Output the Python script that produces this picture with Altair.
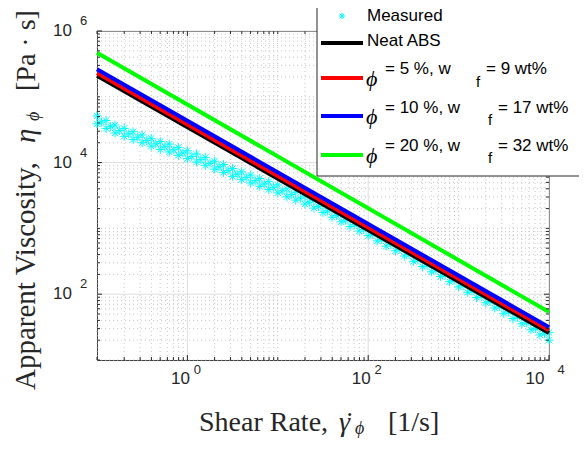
import altair as alt
import pandas as pd

# ---------------- data ----------------
shear_model = [0.1, 10000]
eta_neat = [209000, 25.7]
eta_5 = [229000, 28.2]
eta_10 = [263000, 31.6]
eta_20 = [468000, 53.7]

meas_shear = [0.1, 0.126, 0.158, 0.2, 0.251, 0.316, 0.398, 0.501, 0.631, 0.794,
              1.0, 1.26, 1.58, 2.0, 2.51, 3.16, 3.98, 5.01, 6.31, 7.94,
              10, 12.6, 15.8, 20, 25.1, 31.6, 39.8, 50.1, 63.1, 79.4,
              100, 126, 158, 200, 251, 316, 398, 501, 631, 794,
              1000, 1260, 1580, 2000, 2510, 3160, 3980, 5010, 6310, 7940, 10000]
meas_eta_upper = [51300, 43700, 37200, 33100, 29500, 26300, 23400, 20900, 19100, 17000,
                  15100, 13500, 12000, 10500, 9330, 8130, 7240, 6460, 5750, 5130,
                  4570, 3980, 3550, 3090, 2690, 2290, 1950, 1660, 1410, 1200,
                  1020, 851, 708, 603, 501, 417, 347, 288, 245, 204,
                  170, 141, 117, 97.7, 81.3, 67.6, 56.2, 46.8, 38.0, 31.6, 26.3]
meas_eta_lower = [38900, 33100, 28200, 25100, 22400, 20000, 17800, 15800, 14500, 12900,
                  11500, 10200, 9120, 7940, 7080, 6170, 5500, 4900, 4370, 3890,
                  3470, 3020, 2690, 2340, 2040, 1740, 1480, 1260, 1070, 912,
                  776, 646, 537, 457, 380, 316, 263, 219, 186, 155,
                  129, 107, 89.1, 74.1, 61.7, 51.3, 42.7, 35.5, 28.8, 24.0, 20.0]
meas_shear_mid = [0.112, 0.141, 0.178, 0.224, 0.282, 0.355, 0.447, 0.562, 0.708, 0.891,
                  1.12, 1.41, 1.78, 2.24, 2.82, 3.55, 4.47, 5.62, 7.08, 8.91,
                  11.2, 14.1, 17.8, 22.4, 28.2, 35.5, 44.7, 56.2, 70.8, 89.1,
                  112, 141, 178, 224, 282, 355, 447, 562, 708, 891,
                  1120, 1410, 1780, 2240, 2820, 3550, 4470, 5620, 7080, 8910]
meas_eta_mid = [41200, 35100, 30600, 27200, 24300, 21600, 19300, 17400, 15700, 14000,
                12400, 11100, 9770, 8610, 7590, 6680, 5960, 5310, 4730, 4220,
                3720, 3270, 2880, 2510, 2160, 1840, 1570, 1330, 1140, 966,
                813, 676, 569, 479, 398, 331, 275, 232, 195, 162,
                135, 112, 93.3, 77.6, 64.6, 53.7, 44.7, 36.7, 30.2, 25.1]

x_major = [1, 100, 10000]
x_major_exp = ["0", "2", "4"]
y_major = [100, 10000, 1000000]
y_major_exp = ["2", "4", "6"]

W, H = 452, 329
AX = "#262626"
SANS = "Liberation Sans"
SERIF = "Liberation Serif"

xs = alt.Scale(type="log", domain=[0.1, 10000], nice=False)
ys = alt.Scale(type="log", domain=[10, 1000000], nice=False)

# tick / grid positions (decoration)
x_all = [m * 10.0 ** k for k in range(-1, 4) for m in range(1, 10)] + [10000.0]
y_all = [m * 10.0 ** k for k in range(1, 6) for m in range(1, 10)] + [1000000.0]
x_minor = [v for v in x_all if not any(abs(v - M) / M < 1e-6 for M in x_major)]
y_minor = [v for v in y_all if not any(abs(v - M) / M < 1e-6 for M in y_major)]

xmin_df = pd.DataFrame({"v": x_minor})
ymin_df = pd.DataFrame({"v": y_minor})
xmaj_df = pd.DataFrame({"v": x_major, "e": x_major_exp})
ymaj_df = pd.DataFrame({"v": y_major, "e": y_major_exp})


def X(f):
    return alt.X(f, scale=xs, axis=None)


def Y(f):
    return alt.Y(f, scale=ys, axis=None)


layers = []
# grid
layers.append(alt.Chart(xmin_df).mark_rule(color="#c8c8c8", strokeDash=[1, 3], strokeWidth=1)
              .encode(x=X("v:Q"), y=alt.value(0), y2=alt.value(H)))
layers.append(alt.Chart(ymin_df).mark_rule(color="#c8c8c8", strokeDash=[1, 3], strokeWidth=1)
              .encode(y=Y("v:Q"), x=alt.value(0), x2=alt.value(W)))
layers.append(alt.Chart(xmaj_df).mark_rule(color="#dedede", strokeWidth=1)
              .encode(x=X("v:Q"), y=alt.value(0), y2=alt.value(H)))
layers.append(alt.Chart(ymaj_df).mark_rule(color="#dedede", strokeWidth=1)
              .encode(y=Y("v:Q"), x=alt.value(0), x2=alt.value(W)))

# measured data
meas = pd.DataFrame({
    "shear": meas_shear + meas_shear + meas_shear_mid,
    "eta": meas_eta_upper + meas_eta_lower + meas_eta_mid,
})
AST = "M-1,0L1,0M0,-1L0,1M-0.7,-0.7L0.7,0.7M-0.7,0.7L0.7,-0.7"
layers.append(alt.Chart(meas).mark_point(shape=AST, filled=False, color="#00ffff",
                                         strokeWidth=1, size=80, opacity=1)
              .encode(x=X("shear:Q"), y=Y("eta:Q")))

# model lines
series = [("Neat ABS", eta_neat, "#000000"), ("5", eta_5, "#ff0000"),
          ("10", eta_10, "#0000ff"), ("20", eta_20, "#00ff00")]
for name, vals, col in series:
    d = pd.DataFrame({"shear": shear_model, "eta": vals})
    layers.append(alt.Chart(d).mark_line(color=col, strokeWidth=4)
                  .encode(x=X("shear:Q"), y=Y("eta:Q")))


# ticks (inside, all four sides)
def ticks(df, n, axis):
    out = []
    if axis == "x":
        out.append(alt.Chart(df).mark_rule(color=AX).encode(x=X("v:Q"), y=alt.value(H), y2=alt.value(H - n)))
        out.append(alt.Chart(df).mark_rule(color=AX).encode(x=X("v:Q"), y=alt.value(0), y2=alt.value(n)))
    else:
        out.append(alt.Chart(df).mark_rule(color=AX).encode(y=Y("v:Q"), x=alt.value(0), x2=alt.value(n)))
        out.append(alt.Chart(df).mark_rule(color=AX).encode(y=Y("v:Q"), x=alt.value(W), x2=alt.value(W - n)))
    return out


layers += ticks(xmin_df, 3, "x") + ticks(ymin_df, 3, "y")
layers += ticks(xmaj_df, 5, "x") + ticks(ymaj_df, 5, "y")

# tick labels
xl_a = xmaj_df[xmaj_df.v < 5000]
xl_b = xmaj_df[xmaj_df.v > 5000]
for dfp, d10, de in [(xl_a, -7, 10), (xl_b, -14, 12)]:
    layers.append(alt.Chart(dfp).mark_text(text="10", font=SANS, fontSize=17, color=AX,
                                           align="center", baseline="middle", dx=d10)
                  .encode(x=X("v:Q"), y=alt.value(H + 19)))
    layers.append(alt.Chart(dfp).mark_text(font=SANS, fontSize=13, color=AX,
                                           align="center", baseline="middle", dx=de)
                  .encode(x=X("v:Q"), y=alt.value(H + 10), text="e:N"))
layers.append(alt.Chart(ymaj_df).mark_text(text="10", font=SANS, fontSize=17, color=AX,
                                           align="right", baseline="middle")
              .encode(y=Y("v:Q"), x=alt.value(-25)))
layers.append(alt.Chart(ymaj_df).mark_text(font=SANS, fontSize=13, color=AX,
                                           align="left", baseline="middle", dy=-10)
              .encode(y=Y("v:Q"), x=alt.value(-17), text="e:N"))


def text_layer(rows, font, style="normal", angle=0, baseline="alphabetic", color=AX):
    df = pd.DataFrame(rows)
    return (alt.Chart(df).mark_text(font=font, fontStyle=style, angle=angle, color=color,
                                    align="left", baseline=baseline)
            .encode(x=alt.X("px:Q", scale=None), y=alt.Y("py:Q", scale=None), text="t:N",
                    size=alt.Size("s:Q", scale=None, legend=None)))


# axis titles (pieces)
layers.append(text_layer([
    {"t": "Shear Rate,", "px": 102, "py": 400, "s": 28},
    {"t": "[1/s]", "px": 291, "py": 400, "s": 28},
    {"t": "˙", "px": 248, "py": 400, "s": 28},
], SERIF))
layers.append(text_layer([
    {"t": "γ", "px": 242, "py": 400, "s": 28},
    {"t": "ϕ", "px": 258, "py": 403, "s": 18},
], SERIF, style="italic"))
layers.append(text_layer([
    {"t": "Apparent Viscosity,", "px": -62, "py": 359, "s": 29},
    {"t": "[Pa · s]", "px": -62, "py": 60, "s": 28},
], SERIF, angle=270))
layers.append(text_layer([
    {"t": "η", "px": -62, "py": 112, "s": 29},
    {"t": "ϕ", "px": -58, "py": 90, "s": 18},
], SERIF, style="italic", angle=270))

# legend (manual, placed like the original)
layers.append(alt.Chart(alt.Data(values=[{}])).mark_rect(fill="white", stroke=AX, strokeWidth=1)
              .encode(x=alt.value(220), x2=alt.value(560), y=alt.value(-40), y2=alt.value(145)))
leg_lines = pd.DataFrame({
    "x1": [224, 224, 224, 224], "x2": [266, 266, 266, 266],
    "y": [12, 47, 85, 124], "c": ["#000000", "#ff0000", "#0000ff", "#00ff00"],
})
layers.append(alt.Chart(leg_lines).mark_rule(strokeWidth=4)
              .encode(x=alt.X("x1:Q", scale=None), x2="x2:Q", y=alt.Y("y:Q", scale=None),
                      color=alt.Color("c:N", scale=None)))
layers.append(alt.Chart(alt.Data(values=[{}])).mark_point(shape=AST, filled=False, color="#00ffff",
                                                          strokeWidth=1, size=40, opacity=1)
              .encode(x=alt.value(245), y=alt.value(-15)))
layers.append(text_layer([
    {"t": "Measured", "px": 270, "py": -15, "s": 17},
    {"t": "Neat ABS", "px": 270, "py": 10, "s": 17},
    {"t": "= 5 %, w", "px": 288, "py": 38, "s": 17},
    {"t": "f", "px": 379, "py": 51, "s": 15},
    {"t": "= 9 wt%", "px": 389, "py": 38, "s": 17},
    {"t": "= 10 %, w", "px": 288, "py": 77, "s": 17},
    {"t": "f", "px": 391, "py": 89, "s": 15},
    {"t": "= 17 wt%", "px": 401, "py": 77, "s": 17},
    {"t": "= 20 %, w", "px": 288, "py": 115, "s": 17},
    {"t": "f", "px": 391, "py": 127, "s": 15},
    {"t": "= 32 wt%", "px": 401, "py": 115, "s": 17},
], SANS, baseline="middle", color="#000000"))
layers.append(text_layer([
    {"t": "ϕ", "px": 269, "py": 48, "s": 22},
    {"t": "ϕ", "px": 269, "py": 86, "s": 22},
    {"t": "ϕ", "px": 269, "py": 125, "s": 22},
], SERIF, style="italic", baseline="middle", color="#000000"))

chart = alt.layer(*layers).properties(
    width=W, height=H,
    autosize=alt.AutoSizeParams(type="none"),
    padding={"left": 89, "top": 23, "right": 30, "bottom": 82},
    background="white",
).configure_view(stroke="#404040", strokeWidth=1)

chart.save("out.html", embed_options={"renderer": "svg", "actions": False})
